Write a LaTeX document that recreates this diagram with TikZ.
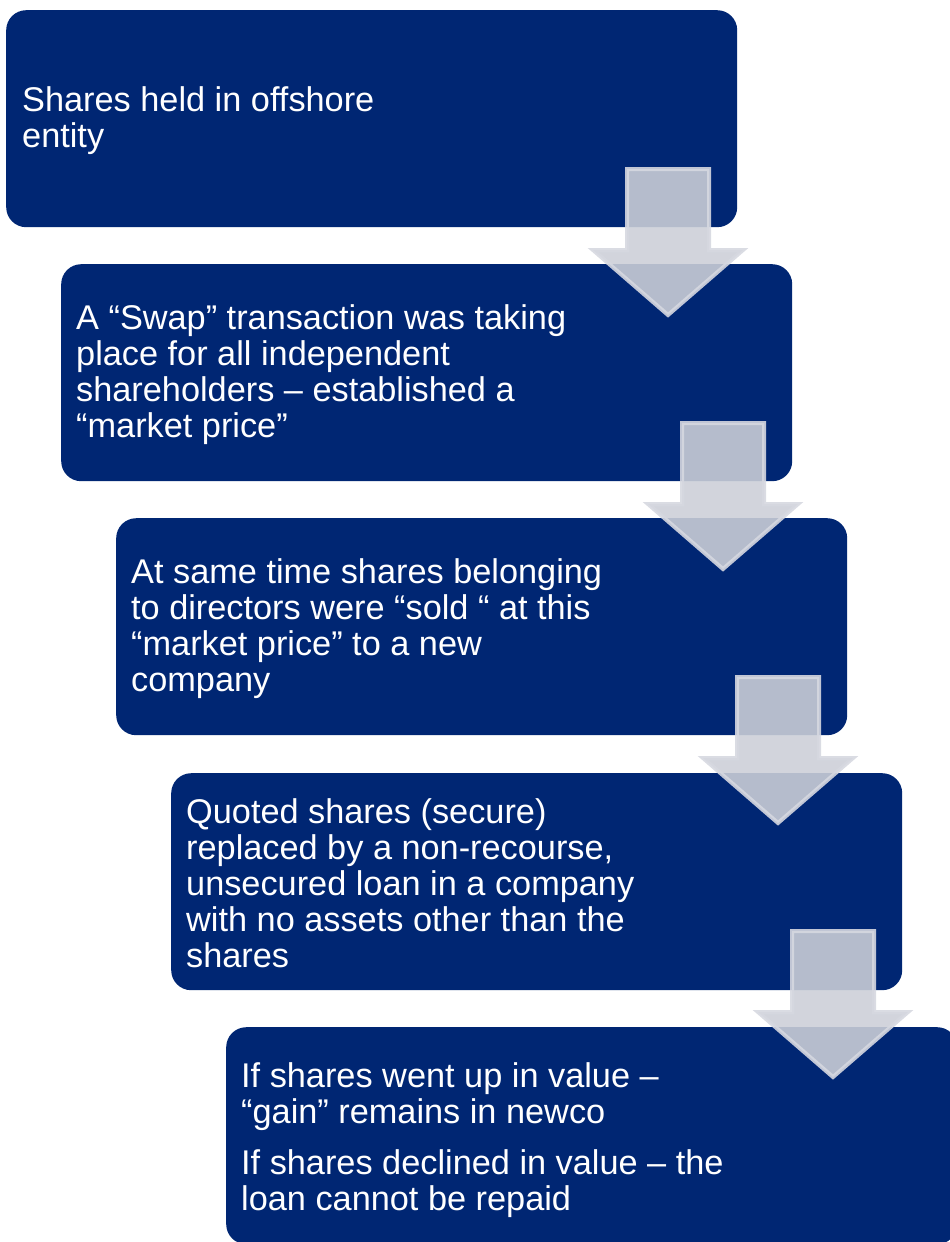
\documentclass[tikz,border=0pt]{standalone}
\usepackage{fontspec}
\setmainfont{Liberation Sans}
\definecolor{navy}{RGB}{0,38,115}
\definecolor{arrowfill}{RGB}{204,207,216}
\definecolor{arrowedge}{RGB}{214,216,224}
\begin{document}
\begin{tikzpicture}[x=1pt,y=-1pt,
  stepbox/.style={fill=navy, rounded corners=20pt, minimum width=731pt,
    minimum height=217pt, inner sep=0pt, anchor=north west},
  steptext/.style={text=white, font=\fontsize{34.3}{36}\selectfont,
    align=left, anchor=west, inner sep=0pt},
  flowarrow/.style={fill=arrowfill, fill opacity=0.89, draw=arrowedge,
    draw opacity=0.9, line width=4pt, line join=miter},
  pics/downarrow/.style={code={
    \draw[flowarrow] (-41,2) -- (41,2) -- (41,83) -- (75,83) -- (0,148)
      -- (-75,83) -- (-41,83) -- cycle;}}]
\useasboundingbox (0,0) rectangle (950,1242);
\clip (0,0) rectangle (950,1242);

% process steps
\node[stepbox] (b1) at (6,10) {};
\node[stepbox] (b2) at (61,264) {};
\node[stepbox] (b3) at (116,518) {};
\node[stepbox] (b4) at (171,773) {};
\node[stepbox] (b5) at (226,1027) {};

\node[steptext] (t1) at ([xshift=16pt,yshift=-2pt]b1.west)
  {Shares held in offshore\\entity};
\node[steptext] (t2) at ([xshift=15pt,yshift=-2pt]b2.west)
  {A “Swap” transaction was taking\\place for all independent\\shareholders – established a\\“market price”};
\node[steptext] (t3) at ([xshift=15pt,yshift=-2pt]b3.west)
  {At same time shares belonging\\to directors were “sold “ at this\\“market price” to a new\\company};
\node[steptext] (t4) at ([xshift=15pt,yshift=-2pt]b4.west)
  {Quoted shares (secure)\\replaced by a non-recourse,\\unsecured loan in a company\\with no assets other than the\\shares};
\node[steptext] (t5) at ([xshift=15pt,yshift=-4pt]b5.west)
  {If shares went up in value –\\“gain” remains in newco\\[15pt]If shares declined in value – the\\loan cannot be repaid};

% arrows between steps
\coordinate (a1) at (668,167);
\coordinate (a2) at (723,421);
\coordinate (a3) at (778,675);
\coordinate (a4) at (833,929);
\pic at (a1) {downarrow};
\pic at (a2) {downarrow};
\pic at (a3) {downarrow};
\pic at (a4) {downarrow};
\end{tikzpicture}
\end{document}
